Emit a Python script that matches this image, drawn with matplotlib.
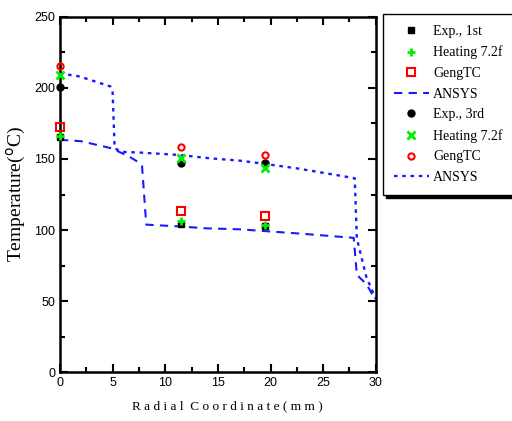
import matplotlib
matplotlib.use('Agg')
import matplotlib.pyplot as plt
from matplotlib.ticker import MultipleLocator

# measured points
x_pts = [0, 11.5, 19.5]
exp_1st = [165.5, 104.5, 102.5]
heat_1st = [166.5, 106.5, 103.5]
geng_1st = [172.5, 113.5, 110.0]

exp_3rd = [200.5, 147.5, 147.5]
heat_3rd = [209.0, 150.5, 143.5]
geng_3rd = [215.5, 158.5, 152.5]

# ANSYS curves
ansys1_x = [0, 2.0, 4.9, 6.5, 7.4, 7.8, 8.2, 11.4, 13.9, 17.1, 19.0, 22.8, 27.9, 28.2, 29.1, 30.0]
ansys1_T = [163.5, 162.5, 157.5, 152.0, 148.0, 145.0, 103.8, 102.5, 101.2, 100.5, 99.5, 97.5, 94.5, 68.5, 62.0, 50.5]
ansys3_x = [0, 1.9, 4.8, 5.0, 5.2, 5.9, 7.6, 11.4, 14.2, 17.1, 19.0, 22.5, 27.2, 28.0, 28.2, 29.1, 30.0]
ansys3_T = [210.3, 208.0, 201.0, 198.0, 157.5, 155.0, 154.5, 152.8, 150.5, 148.8, 147.0, 143.4, 137.5, 136.4, 94.0, 67.0, 51.5]

fig = plt.figure(figsize=(5.12, 4.21), dpi=100)
ax = fig.add_axes([0.117, 0.116, 0.617, 0.844])

ax.plot(x_pts, exp_1st, 's', color='black', ms=5, label='Exp., 1st', clip_on=False, zorder=5)
ax.plot(x_pts, heat_1st, '+', color='#00ee00', ms=6, mew=2, label='Heating 7.2f', clip_on=False, zorder=6)
ax.plot(x_pts, geng_1st, 's', mfc='none', mec='red', ms=6, mew=1.5, label='GengTC', clip_on=False, zorder=5)
ax.plot(ansys1_x, ansys1_T, '--', color='#1a1aff', lw=1.5, dashes=(4, 3), label='ANSYS')
ax.plot(x_pts, exp_3rd, 'o', color='black', ms=5, label='Exp., 3rd', clip_on=False, zorder=5)
ax.plot(x_pts, heat_3rd, 'x', color='#00ee00', ms=6, mew=2, label='Heating 7.2f', clip_on=False, zorder=6)
ax.plot(x_pts, geng_3rd, 'o', mfc='none', mec='red', ms=4.5, mew=1.5, label='GengTC', clip_on=False, zorder=5)
ax.plot(ansys3_x, ansys3_T, ':', color='#1a1aff', lw=1.7, dashes=(1.5, 2), label='ANSYS')

ax.set_xlim(0, 30)
ax.set_ylim(0, 250)
ax.xaxis.set_major_locator(MultipleLocator(5))
ax.xaxis.set_minor_locator(MultipleLocator(2.5))
ax.yaxis.set_major_locator(MultipleLocator(50))
ax.yaxis.set_minor_locator(MultipleLocator(25))
ax.tick_params(which='both', direction='in', top=True, right=True, width=1.5,
               labelsize=9, labelfontfamily='Liberation Sans')
ax.tick_params(which='major', length=6)
ax.tick_params(which='minor', length=3.5)
for s in ax.spines.values():
    s.set_linewidth(1.8)

ax.set_xlabel('R a d i a l  C o o r d i n a t e ( m m )', family='Liberation Serif', fontsize=9.5)
ax.xaxis.set_label_coords(0.53, -0.08)
ax.set_ylabel('Temperature($^{\\rm o}$C)', family='Liberation Serif', fontsize=14)

leg = fig.legend(loc='upper left', bbox_to_anchor=(0.748, 0.967), borderaxespad=0,
                 frameon=True, fancybox=False,
                 shadow={'color': 'black', 'alpha': 1}, edgecolor='black', handlelength=2.5,
                 labelspacing=0.55, borderpad=0.8, handletextpad=0.3,
                 prop={'family': 'Liberation Serif', 'size': 10})
leg.get_frame().set_linewidth(1.0)

fig.savefig('out.png', dpi=100)
